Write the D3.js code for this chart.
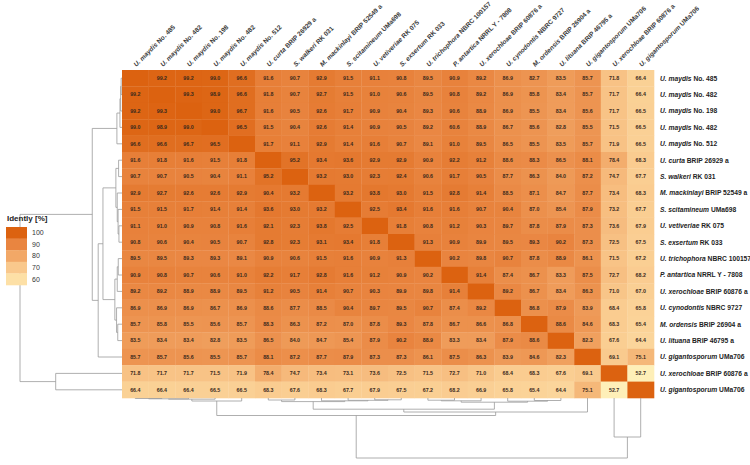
<!DOCTYPE html>
<html><head><meta charset="utf-8">
<script src="https://cdn.jsdelivr.net/npm/d3@7"></script>
<style>
body{margin:0;background:#fff}
svg{display:block;font-family:"Liberation Sans",Arial,Helvetica,sans-serif}
</style>
</head><body>
<svg id="chart" width="750" height="465"></svg>
<script>
// ---------- data ----------
const strains = [
  "U. maydis No. 485","U. maydis No. 482","U. maydis No. 198","U. maydis No. 482","U. maydis No. 512",
  "U. curta BRIP 26929 a","S. walkeri RK 031","M. mackinlayi BRIP 52549 a","S. scitamineum UMa698",
  "U. vetiveriae RK 075","S. exsertum RK 033","U. trichophora NBRC 100157","P. antartica NRRL Y - 7808",
  "U. xerochloae BRIP 60876 a","U. cynodontis NBRC 9727","M. ordensis BRIP 26904 a","U. lituana BRIP 46795 a",
  "U. gigantosporum UMa706","U. xerochloae BRIP 60876 a","U. gigantosporum UMa706"
];
const N = null;
const identity = [
  [N,99.2,99.2,99.0,96.6,91.6,90.7,92.9,91.5,91.1,90.8,89.5,90.9,89.2,86.9,82.7,83.5,85.7,71.8,66.4],
  [99.2,N,99.3,98.9,96.6,91.8,90.7,92.7,91.5,91.0,90.6,89.5,90.8,89.2,86.9,85.8,83.4,85.7,71.7,66.4],
  [99.2,99.3,N,99.0,96.7,91.6,90.5,92.6,91.7,90.9,90.4,89.3,90.6,88.9,86.9,85.5,83.4,85.6,71.7,66.5],
  [99.0,98.9,99.0,N,96.5,91.5,90.4,92.6,91.4,90.9,90.5,89.2,60.6,88.9,86.7,85.6,82.8,85.5,71.5,66.5],
  [96.6,96.6,96.7,96.5,N,91.7,91.1,92.9,91.4,91.6,90.7,89.1,91.0,89.5,86.5,85.5,83.5,85.7,71.9,66.5],
  [91.6,91.8,91.6,91.5,91.8,N,95.2,93.4,93.6,92.9,92.9,90.9,92.2,91.2,88.6,88.3,86.5,88.1,78.4,68.3],
  [90.7,90.7,90.5,90.4,91.1,95.2,N,93.2,93.0,92.3,92.4,90.6,91.7,90.5,87.7,86.3,84.0,87.2,74.7,67.7],
  [92.9,92.7,92.6,92.6,92.9,90.4,93.2,N,93.2,93.8,93.0,91.5,92.8,91.4,88.5,87.1,84.7,87.7,73.4,68.3],
  [91.5,91.5,91.7,91.4,91.4,93.6,93.0,93.2,N,92.5,93.4,91.6,91.6,90.7,90.4,87.0,85.4,87.9,73.2,67.7],
  [91.1,91.0,90.9,90.8,91.6,92.1,92.3,93.8,92.5,N,91.8,90.8,91.2,90.3,89.7,87.8,87.9,87.3,73.6,67.9],
  [90.8,90.6,90.4,90.5,90.7,92.8,92.3,93.1,93.4,91.8,N,91.3,90.9,89.9,89.5,89.3,90.2,87.3,72.5,67.5],
  [89.5,89.5,89.3,89.3,89.1,90.9,90.6,91.5,91.6,90.9,91.3,N,90.2,89.8,90.7,87.8,88.9,86.1,71.5,67.2],
  [90.9,90.8,90.7,90.6,91.0,92.2,91.7,92.8,91.6,91.2,90.9,90.2,N,91.4,87.4,86.7,83.3,87.5,72.7,68.2],
  [89.2,89.2,88.9,88.9,89.5,91.2,90.5,91.4,90.7,90.3,89.9,89.8,91.4,N,89.2,86.7,83.4,86.3,71.0,67.0],
  [86.9,86.9,86.9,86.7,86.9,88.6,87.7,88.5,90.4,89.7,89.5,90.7,87.4,89.2,N,86.8,87.9,83.9,68.4,65.8],
  [85.7,85.8,85.5,85.6,85.7,88.3,86.3,87.2,87.0,87.8,89.3,87.8,86.7,86.6,86.8,N,88.6,84.6,68.3,65.4],
  [83.5,83.4,83.4,82.8,83.5,86.5,84.0,84.7,85.4,87.9,90.2,88.9,83.3,83.4,87.9,88.6,N,82.3,67.6,64.4],
  [85.7,85.7,85.6,85.5,85.7,88.1,87.2,87.7,87.9,87.3,87.3,86.1,87.5,86.3,83.9,84.6,82.3,N,69.1,75.1],
  [71.8,71.7,71.7,71.5,71.9,78.4,74.7,73.4,73.1,73.6,72.5,71.5,72.7,71.0,68.4,68.3,67.6,69.1,N,52.7],
  [66.4,66.4,66.4,66.5,66.5,68.3,67.6,68.3,67.7,67.9,67.5,67.2,68.2,66.9,65.8,65.4,64.4,75.1,52.7,N]
];
const legendTitle = "Idently [%]";
const legendTicks = [100, 90, 80, 70, 60];
// clustering tree: [left, right, mergeHeight]; leaves are indices into strains
const maydisTree = [[[[0,1,0.5],2,0.8],3,1.2],4,3.0];
const coreTree = [
  [[5,6,2.0],[7,[8,[9,10,1.8],2.3],2.8],3.6],
  [[[11,12,2.2],13,2.8],[14,[15,16,2.5],3.2],4.2],
  11.2];
const rowTree = [[maydisTree, [coreTree, 17, 14], 17.5], [18, 19, 39], 60];

// ---------- layout ----------
const svg = d3.select("#chart");
const x0 = 122, y0 = 70, cw = 26.6, ch = 16.4, n = strains.length;
const W = cw * n, H = ch * n;

const xb = d3.scaleBand().domain(d3.range(n)).range([x0, x0 + W]);
const yb = d3.scaleBand().domain(d3.range(n)).range([y0, y0 + H]);
const color = d3.scaleLinear()
  .domain([50, 60, 70, 80, 90, 100])
  .range(["#fff5bf", "#fde0a6", "#f9c88c", "#f2a867", "#e98540", "#dc6210"])
  .clamp(true);
const cellVal = (i, j) => identity[i][j] == null ? 100 : Math.max(identity[i][j], identity[j][i]);

// cells
const cells = [];
identity.forEach((row, i) => row.forEach((v, j) => cells.push({i, j, v})));
svg.append("g").selectAll("rect").data(cells).join("rect")
  .attr("x", d => xb(d.j)).attr("y", d => yb(d.i))
  .attr("width", xb.bandwidth() + 0.3).attr("height", yb.bandwidth() + 0.3)
  .attr("fill", d => color(cellVal(d.i, d.j)));
svg.append("g").selectAll("text").data(cells.filter(d => d.v != null)).join("text")
  .attr("x", d => xb(d.j) + xb.bandwidth() / 2).attr("y", d => yb(d.i) + yb.bandwidth() / 2)
  .attr("dy", "0.35em").attr("text-anchor", "middle")
  .attr("font-size", 5.3).attr("font-weight", "bold").attr("fill", "#3b2a1c")
  .text(d => d.v.toFixed(1));

// labels with italic species part
function fillLabel(sel) {
  sel.each(function(d) {
    const parts = d.split(" ");
    const t = d3.select(this);
    t.append("tspan").attr("font-style", "italic").text(parts.slice(0, 2).join(" "));
    t.append("tspan").text(" " + parts.slice(2).join(" "));
  });
}
svg.append("g").selectAll("text").data(strains).join("text")
  .attr("x", x0 + W + 6).attr("y", (d, i) => yb(i) + yb.bandwidth() / 2)
  .attr("dy", "0.35em").attr("font-size", 6.7).attr("font-weight", "bold").attr("fill", "#222")
  .call(fillLabel);
svg.append("g").selectAll("text").data(strains).join("text")
  .attr("transform", (d, i) => `translate(${xb(i) + xb.bandwidth() / 2 + 1},${y0 - 3}) rotate(-45)`)
  .attr("font-size", 6.5).attr("font-weight", "bold").attr("fill", "#3a3a3a")
  .call(fillLabel);

// dendrograms
const maxH = rowTree[2];
const hBottom = d3.scaleLinear().domain([0, maxH]).range([y0 + H, 458]);
const hLeft = d3.scaleLinear().domain([0, maxH]).range([x0, 20]);
const dg = svg.append("g").attr("fill", "none").attr("stroke", "#9a9a9a").attr("stroke-width", 0.8);
function walk(node, segs) {
  if (typeof node === "number") return {p: node, h: 0};
  const a = walk(node[0], segs), b = walk(node[1], segs), h = node[2];
  segs.push([a.p, a.h, a.p, h], [b.p, b.h, b.p, h], [a.p, h, b.p, h]);
  return {p: (a.p + b.p) / 2, h};
}
const segs = [];
walk(rowTree, segs);
// positions are in leaf-index units -> map to pixels for each axis
const colPos = p => x0 + (p + 0.5) * cw;
const rowPos = p => y0 + (p + 0.5) * ch;
dg.selectAll("line.b").data(segs).join("line").attr("class", "b")
  .attr("x1", s => colPos(s[0])).attr("x2", s => colPos(s[2]))
  .attr("y1", s => hBottom(s[1])).attr("y2", s => hBottom(s[3]));
dg.selectAll("line.l").data(segs).join("line").attr("class", "l")
  .attr("y1", s => rowPos(s[0])).attr("y2", s => rowPos(s[2]))
  .attr("x1", s => hLeft(s[1])).attr("x2", s => hLeft(s[3]));

// legend
const lg = svg.append("g");
lg.append("text").attr("x", 7).attr("y", 221).attr("font-size", 8).attr("font-weight", "bold")
  .attr("fill", "#222").text(legendTitle);
const ly = d3.scaleBand().domain(legendTicks).range([227, 285]);
lg.selectAll("rect").data(legendTicks).join("rect")
  .attr("x", 6).attr("y", d => ly(d)).attr("width", 21).attr("height", ly.bandwidth() + 0.3)
  .attr("fill", d => color(d));
lg.selectAll("text.t").data(legendTicks).join("text").attr("class", "t")
  .attr("x", 32).attr("y", d => ly(d) + ly.bandwidth() / 2).attr("dy", "0.35em")
  .attr("font-size", 7).attr("fill", "#333").text(d => d);
</script>
</body></html>
